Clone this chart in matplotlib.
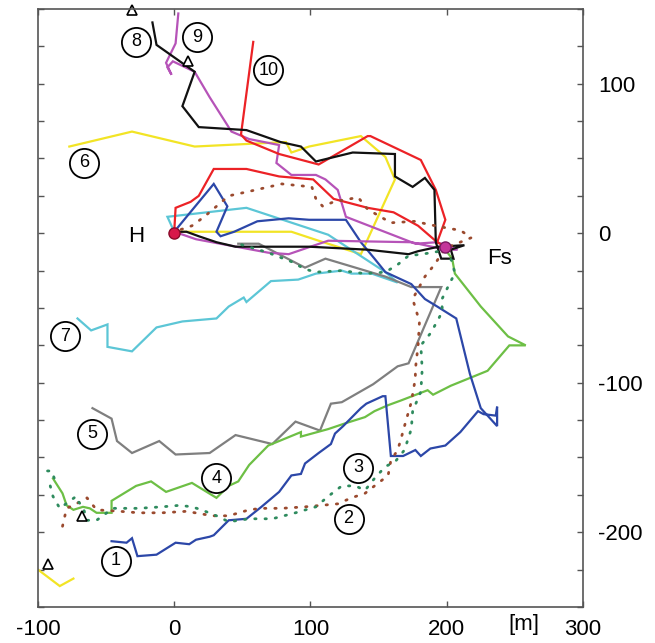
import numpy as np
import matplotlib.pyplot as plt

plt.rcParams["font.family"] = ["Liberation Sans", "DejaVu Sans"]
plt.rcParams["axes.unicode_minus"] = False

# trajectories, (x, y) in metres, H at the origin
route_1 = [(-46, -206), (-35, -207), (-31, -204), (-27, -216), (-13, -215), (1, -207), (11, -208),
           (16, -205), (26, -203), (29, -202), (40, -192), (53, -191), (64, -183), (77, -173),
           (86, -162), (93, -161), (96, -154), (106, -147), (115, -141), (118, -134), (124, -129),
           (137, -117), (141, -114), (153, -109), (155, -109), (159, -149), (168, -149),
           (177, -145), (181, -149), (188, -144), (199, -142), (210, -133), (223, -119),
           (227, -121), (236, -122), (237, -116), (237, -129), (225, -117), (217, -94),
           (207, -57), (193, -49), (184, -44), (174, -34), (155, -26), (147, -17), (137, -6),
           (126, 9), (99, 9), (84, 10), (61, 8), (44, 1), (34, -2), (31, 1), (39, 18),
           (29, 33), (0, 1)]
route_2 = [(-82, -196), (-79, -184), (-72, -181), (-64, -177), (-57, -185), (-40, -186),
           (-26, -187), (-9, -187), (9, -186), (28, -189), (40, -189), (55, -185), (64, -184),
           (79, -184), (96, -183), (108, -182), (120, -181), (130, -177), (140, -174),
           (147, -169), (157, -162), (159, -152), (164, -145), (166, -139), (169, -129),
           (174, -113), (177, -97), (177, -91), (179, -75), (180, -59), (175, -44), (184, -29),
           (191, -21), (199, -10), (218, -3), (210, 2), (203, 3), (186, 6), (177, 8), (159, 7),
           (142, 16), (135, 24), (117, 21), (109, 18), (104, 23), (101, 31), (79, 33),
           (55, 28), (40, 25), (31, 18), (22, 11), (13, 5), (0, 1)]
route_3 = [(-93, -159), (-90, -159), (-88, -164), (-91, -169), (-89, -176), (-84, -184),
           (-72, -176), (-71, -179), (-67, -183), (-64, -192), (-57, -192), (-45, -184),
           (-26, -184), (-9, -183), (4, -182), (13, -183), (20, -185), (31, -189), (40, -193),
           (55, -191), (72, -191), (89, -187), (104, -183), (113, -176), (123, -169),
           (133, -169), (140, -172), (147, -164), (155, -156), (162, -153), (169, -145),
           (174, -131), (175, -119), (181, -106), (182, -91), (181, -75), (188, -67),
           (193, -59), (197, -52), (196, -45), (203, -32), (206, -27), (204, -19), (199, -11),
           (195, -12), (182, -14), (172, -15), (164, -21), (155, -26), (140, -27), (123, -25),
           (104, -26), (96, -24), (86, -19), (69, -13), (47, -7)]
route_4 = [(-89, -164), (-82, -174), (-79, -182), (-74, -185), (-67, -183), (-62, -184),
           (-57, -187), (-46, -187), (-46, -179), (-28, -169), (-17, -166), (-6, -173),
           (13, -167), (31, -177), (40, -169), (47, -166), (55, -155), (69, -142), (93, -133),
           (93, -136), (113, -131), (126, -127), (140, -123), (147, -119), (157, -115),
           (166, -112), (186, -105), (190, -108), (203, -102), (230, -92), (246, -75),
           (258, -75), (245, -69), (225, -49), (206, -27), (204, -17), (199, -11)]
route_5 = [(-60, -117), (-46, -124), (-42, -139), (-31, -147), (-11, -139), (1, -148),
           (26, -147), (45, -135), (72, -141), (89, -126), (107, -132), (115, -114),
           (123, -113), (146, -101), (164, -89), (172, -87), (196, -36), (174, -36),
           (155, -29), (111, -17), (106, -19), (96, -23), (62, -7), (47, -7)]
route_6 = [(-77, 58), (-31, 68), (15, 58), (82, 61), (86, 54), (99, 58), (137, 65), (155, 51),
           (162, 36), (137, -14), (106, -5), (86, 1), (0, 1)]
route_6b = [(-100, -225), (-84, -236), (-74, -231)]
route_7 = [(0, 1), (-5, 11), (53, 17), (113, -1), (155, -26), (164, -33), (145, -27),
           (130, -27), (123, -25), (104, -27), (91, -31), (71, -32), (53, -46), (51, -43),
           (40, -49), (31, -57), (6, -59), (-13, -63), (-31, -79), (-49, -76), (-49, -61),
           (-61, -65), (-71, -57)]
route_8 = [(-16, 141), (-13, 126), (15, 108), (6, 85), (18, 71), (53, 69), (78, 61), (93, 58),
           (104, 48), (131, 54), (162, 53), (162, 38), (175, 31), (184, 37), (191, 29),
           (192, -6), (196, -17), (205, -17), (203, -11), (213, -8), (194, -9), (179, -12),
           (172, -14), (142, -11), (99, -9), (45, -9), (31, -6), (18, -2), (9, 1), (0, 1)]
route_9 = [(3, 147), (1, 127), (-6, 114), (-2, 106), (-5, 111), (-1, 115), (15, 108), (26, 91),
           (42, 68), (55, 63), (77, 59), (75, 47), (86, 39), (104, 39), (111, 36), (120, 29),
           (126, 11), (177, -7), (193, -6), (208, -11), (199, -11), (174, -6), (113, -5),
           (100, -9), (84, -14), (69, -13), (16, -4), (0, 1)]
route_10 = [(58, 128), (49, 66), (53, 62), (77, 53), (106, 46), (142, 65), (144, 65), (181, 49),
            (192, 29), (199, 9), (193, -6), (199, -9)]
route_10b = [(0, 1), (1, 17), (12, 21), (18, 25), (29, 43), (53, 43), (77, 38), (102, 36),
             (117, 23), (142, 17), (161, 14), (179, 5), (193, -6)]

start_x = [-31, 10, -68, -93]
start_y = [149, 115, -189, -221]

label_text = ["1", "2", "3", "4", "5", "6", "7", "8", "9", "10"]
label_x = [-43, 128, 135, 31, -60, -66, -80, -28, 17, 69]
label_y = [-219, -191, -157, -164, -134, 47, -69, 128, 131, 109]

home = (0, 0)
feeder = (199, -9)

fig = plt.figure(figsize=(6.55, 6.43), dpi=100)
ax = fig.add_axes([0.058, 0.056, 0.832, 0.930])

solid = [
    (route_6, "#f2e425"), (route_6b, "#f2e425"),
    (route_7, "#5cc6d6"),
    (route_5, "#7f7f7f"),
    (route_4, "#6dbf45"),
    (route_1, "#2c47a8"),
    (route_9, "#b653b8"),
    (route_10b, "#ec2226"), (route_10, "#ec2226"),
    (route_8, "#111111"),
]
for pts, col in solid:
    a = np.array(pts)
    ax.plot(a[:, 0], a[:, 1], color=col, lw=1.6, solid_joinstyle="miter")

# dotted routes 2 and 3
for pts, col in [(route_2, "#9b4a2e"), (route_3, "#2e8b5e")]:
    a = np.array(pts)
    ax.plot(a[:, 0], a[:, 1], color=col, lw=2.0, linestyle=(0, (0.5, 3.2)),
            dash_capstyle="round")

ax.plot(start_x, start_y, linestyle="none", marker="^", markersize=7,
        markerfacecolor="white", markeredgecolor="black", markeredgewidth=1.2, clip_on=False)

ax.plot(*home, "o", color="#d8174a", markersize=8, markeredgecolor="#8a0a2a", zorder=5)
ax.plot(*feeder, "o", color="#c4359a", markersize=8, markeredgecolor="#7a1a60", zorder=5)

for t, x, y in zip(label_text, label_x, label_y):
    ax.plot(x, y, "o", markersize=21, markerfacecolor="white", markeredgecolor="black",
            markeredgewidth=1.3, zorder=6)
    ax.text(x, y, t, ha="center", va="center", fontsize=13, zorder=7)

ax.text(-28, -2, "H", ha="center", va="center", fontsize=16)
ax.text(239, -17, "Fs", ha="center", va="center", fontsize=16)
ax.text(257, -262, "[m]", ha="center", va="center", fontsize=16, clip_on=False)

ax.set_xlim(-100, 300)
ax.set_ylim(-250, 150)
ax.set_xticks([-100, 0, 100, 200, 300])
ax.set_yticks([-200, -100, 0, 100])
ax.set_yticks(np.arange(-250, 151, 25), minor=True)
ax.tick_params(which="both", direction="in", length=4, width=1, color="#555555",
               left=True, right=True, top=True, bottom=True,
               labelleft=False, labelright=True, labelsize=16)
ax.tick_params(axis="y", pad=11)
ax.tick_params(axis="x", pad=9)
for s in ax.spines.values():
    s.set_color("#555555")
    s.set_linewidth(1.2)

fig.savefig("out.png", dpi=100)
